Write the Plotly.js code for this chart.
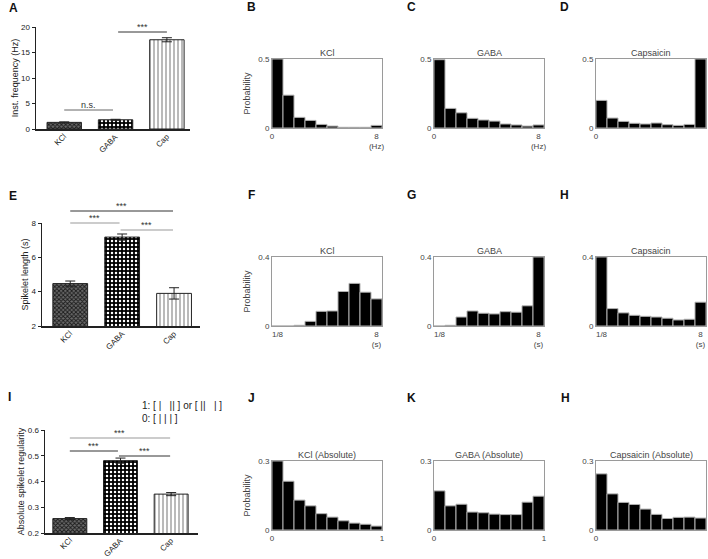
<!DOCTYPE html>
<html><head><meta charset="utf-8">
<script src="https://cdn.plot.ly/plotly-3.0.1.min.js"></script>
<style>body{margin:0;background:#fff}#chart{width:708px;height:559px}</style>
</head><body><div id="chart"></div>
<script>
const W = 708, H = 559;

// ---- data ----
const barCats = ['KCl', 'GABA', 'Cap'];
const instFreq = [1.3, 1.8, 17.5];
const instFreqErr = [0.1, 0.1, 0.4];
const spikeletLen = [4.47, 7.18, 3.9];
const spikeletLenErr = [0.15, 0.18, 0.33];
const regularity = [0.256, 0.481, 0.351];
const regularityErr = [0.004, 0.01, 0.006];

const binCenters = [0.5, 1.5, 2.5, 3.5, 4.5, 5.5, 6.5, 7.5, 8.5, 9.5];
const freqKCl  = [0.5, 0.238, 0.077, 0.055, 0.026, 0.014, 0.005, 0.005, 0.005, 0.019];
const freqGABA = [0.495, 0.142, 0.11, 0.07, 0.058, 0.05, 0.029, 0.022, 0.014, 0.022];
const freqCap  = [0.2, 0.072, 0.048, 0.034, 0.029, 0.036, 0.024, 0.019, 0.026, 0.5];
const lenKCl   = [0, 0, 0.004, 0.027, 0.085, 0.087, 0.2, 0.247, 0.196, 0.157];
const lenGABA  = [0, 0.004, 0.052, 0.087, 0.074, 0.07, 0.083, 0.08, 0.117, 0.4];
const lenCap   = [0.4, 0.101, 0.076, 0.062, 0.056, 0.052, 0.045, 0.035, 0.039, 0.138];
const regKCl   = [0.3, 0.212, 0.13, 0.105, 0.071, 0.056, 0.04, 0.03, 0.025, 0.017];
const regGABA  = [0.17, 0.105, 0.112, 0.078, 0.075, 0.069, 0.067, 0.067, 0.121, 0.147];
const regCap   = [0.244, 0.157, 0.12, 0.111, 0.091, 0.068, 0.05, 0.055, 0.056, 0.052];

const histTitles = ['KCl', 'GABA', 'Capsaicin', 'KCl', 'GABA', 'Capsaicin',
                    'KCl (Absolute)', 'GABA (Absolute)', 'Capsaicin (Absolute)'];
const freqTicks = ['0', '8<br>(Hz)'];
const lenTicks = ['1/8', '8<br>(s)'];
const regTicks = ['0', '1'];

// ---- helpers ----
const dx = (a, b) => [a / W, b / W];
const dy = (top, bot) => [1 - bot / H, 1 - top / H];
const px = v => v / W;
const py = v => 1 - v / H;

const layout = {
  width: W, height: H, margin: {l: 0, r: 0, t: 0, b: 0},
  paper_bgcolor: '#fff', plot_bgcolor: 'rgba(0,0,0,0)',
  showlegend: false, bargap: 0, barmode: 'overlay',
  font: {family: 'Liberation Sans, Arial, sans-serif', size: 8, color: '#222'},
  shapes: [], annotations: []
};
const data = [];

// ---- bar panels A, E, I ----
const patterns = [
  {shape: 'x', fgcolor: '#1a1a1a', bgcolor: '#6a6a6a', size: 3, solidity: 0.5},
  {shape: '.', fgcolor: '#ffffff', bgcolor: '#000000', size: 4, solidity: 0.3},
  {shape: '|', fgcolor: '#8c8c8c', bgcolor: '#ffffff', size: 4, solidity: 0.3}
];
const barColors = ['#555', '#000', '#fff'];
const barPanels = [
  {vals: instFreq, err: instFreqErr, x: [36, 190], y: [27, 129], range: [0, 20], tv: [0, 5, 10, 15, 20],
   xr: [-0.55, 2.45], title: 'Inst. frequency (Hz)'},
  {vals: spikeletLen, err: spikeletLenErr, x: [42, 200], y: [223, 326], range: [2, 8], tv: [2, 4, 6, 8],
   xr: [-0.544, 2.5], title: 'Spikelet length (s)'},
  {vals: regularity, err: regularityErr, x: [45, 198], y: [430, 533], range: [0.2, 0.6], tv: [0.2, 0.3, 0.4, 0.5, 0.6],
   xr: [-0.49, 2.53], title: 'Absolute spikelet regularity'}
];
barPanels.forEach((p, i) => {
  const n = i + 1;
  const sfx = n === 1 ? '' : String(n);
  barCats.forEach((cat, j) => {
    data.push({
      type: 'bar', x: [j], y: [p.vals[j]], xaxis: 'x' + sfx, yaxis: 'y' + sfx,
      width: 0.67, name: cat,
      marker: {color: barColors[j], pattern: patterns[j], line: {color: '#222', width: 1}},
      error_y: {type: 'data', array: [p.err[j]], color: '#222', thickness: 1, width: 5},
      hoverinfo: 'skip'
    });
    // rotated category label
    layout.annotations.push({xref: 'x' + sfx, yref: 'paper', x: j + 0.14, y: py(p.y[1]),
      text: cat, textangle: -45, showarrow: false, xanchor: 'right', yanchor: 'top',
      font: {size: 8, color: '#222'}});
  });
  layout['xaxis' + sfx] = {domain: dx(p.x[0], p.x[1]), range: p.xr, anchor: 'y' + sfx,
    tickvals: [0, 1, 2], showticklabels: false,
    showline: true, linecolor: '#222', linewidth: 1.5, ticks: '',
    showgrid: false, zeroline: false, fixedrange: true};
  layout['yaxis' + sfx] = {domain: dy(p.y[0], p.y[1]), range: p.range, tickvals: p.tv, anchor: 'x' + sfx,
    showline: true, linecolor: '#222', linewidth: 1.5, ticks: 'outside', ticklen: 3, tickcolor: '#222',
    tickfont: {size: 8, color: '#222'}, showgrid: false, zeroline: false, fixedrange: true,
    title: {text: p.title, font: {size: 9, color: '#222'}, standoff: 1}};
});

// significance markers
function sig(xref, x0, x1, yPix, color, label, textPix) {
  layout.shapes.push({type: 'line', xref: xref, yref: 'paper', x0: x0, x1: x1, y0: py(yPix), y1: py(yPix),
    line: {color: color, width: 1}});
  layout.annotations.push({xref: xref, yref: 'paper', x: (x0 + x1) / 2, y: py(textPix), text: label,
    showarrow: false, font: {size: 9, color: '#333'}, xanchor: 'center', yanchor: 'middle'});
}
sig('x', 0, 0.95, 110, '#666', 'n.s.', 105);
sig('x', 1.05, 2.0, 32, '#333', '***', 27);
sig('x2', 0, 1.98, 211, '#333', '***', 206);
sig('x2', 0, 0.95, 223, '#999', '***', 218);
sig('x2', 0.97, 1.98, 230, '#999', '***', 225);
sig('x3', 0, 1.98, 438, '#999', '***', 433);
sig('x3', 0, 0.95, 451, '#333', '***', 446);
sig('x3', 0.97, 1.98, 456, '#333', '***', 451);

// ---- histogram panels ----
const histData = [freqKCl, freqGABA, freqCap, lenKCl, lenGABA, lenCap, regKCl, regGABA, regCap];
const cols = [[272, 382], [434, 544], [596, 706]];
const rows = [[59, 128], [257, 326], [461, 530]];
const rowMax = [0.5, 0.4, 0.3];
const rowTickText = [freqTicks, lenTicks, regTicks];
const rowTickVals = [[0, 9.5], [0.5, 9.5], [0, 10]];
histData.forEach((vals, k) => {
  const n = k + 4;
  const r = Math.floor(k / 3), c = k % 3;
  data.push({type: 'bar', x: binCenters, y: vals, width: 1, xaxis: 'x' + n, yaxis: 'y' + n,
    marker: {color: '#000', line: {color: '#b0b0b0', width: 1}}, hoverinfo: 'skip'});
  layout['xaxis' + n] = {domain: dx(cols[c][0], cols[c][1]), range: [0, 10], anchor: 'y' + n,
    tickvals: rowTickVals[r], ticktext: rowTickText[r], ticks: '', showline: true, mirror: true,
    linecolor: '#9a9a9a', linewidth: 1, showgrid: false, zeroline: false, fixedrange: true,
    tickfont: {size: 8, color: '#444'}};
  layout['yaxis' + n] = {domain: dy(rows[r][0], rows[r][1]), range: [0, rowMax[r]], anchor: 'x' + n,
    tickvals: [0, rowMax[r]], ticktext: ['0', String(rowMax[r])], ticks: '', showline: true, mirror: true,
    linecolor: '#9a9a9a', linewidth: 1, showgrid: false, zeroline: false, fixedrange: true,
    tickfont: {size: 8, color: '#444'},
    title: c === 0 ? {text: 'Probability', font: {size: 9, color: '#444'}, standoff: 6} : undefined};
  layout.annotations.push({xref: 'paper', yref: 'paper', x: px((cols[c][0] + cols[c][1]) / 2),
    y: py(rows[r][0] - 6), text: histTitles[k], showarrow: false, font: {size: 9, color: '#444'},
    xanchor: 'center', yanchor: 'middle'});
});

// panel letters
const letters = [['A', 13, 8], ['B', 251, 7], ['C', 411, 7], ['D', 564, 7],
                 ['E', 13, 196], ['F', 251, 195], ['G', 411, 195], ['H', 564, 195],
                 ['I', 9, 397], ['J', 251, 398], ['K', 411, 398], ['H', 565, 398]];
letters.forEach(l => layout.annotations.push({xref: 'paper', yref: 'paper', x: px(l[1]), y: py(l[2]),
  text: '<b>' + l[0] + '</b>', showarrow: false, font: {size: 12, color: '#111', family: 'Liberation Sans, Arial'},
  xanchor: 'center', yanchor: 'middle'}));

// legend-like text in panel I
layout.annotations.push({xref: 'paper', yref: 'paper', x: px(140), y: py(405), xanchor: 'left', yanchor: 'middle',
  text: '1:\u00a0[\u00a0|\u00a0\u00a0\u00a0||\u00a0]\u00a0or\u00a0[\u00a0||\u00a0\u00a0\u00a0|\u00a0]', showarrow: false,
  font: {size: 10, color: '#222'}});
layout.annotations.push({xref: 'paper', yref: 'paper', x: px(140), y: py(418), xanchor: 'left', yanchor: 'middle',
  text: '0:\u00a0[\u00a0|\u00a0|\u00a0|\u00a0]', showarrow: false, font: {size: 10, color: '#222'}});

Plotly.newPlot('chart', data, layout, {staticPlot: true});
</script></body></html>
